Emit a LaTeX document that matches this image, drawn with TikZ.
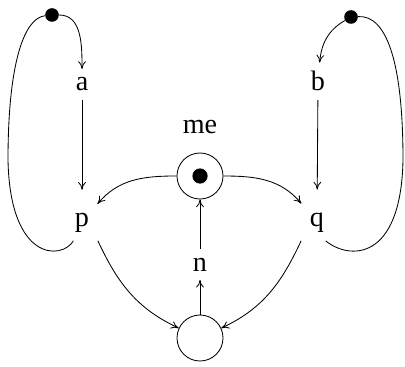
\documentclass[tikz,border=0pt]{standalone}
\usepackage{fontspec}
\setmainfont{Liberation Serif}
\usetikzlibrary{arrows.meta}
\begin{document}
\begin{tikzpicture}[x=0.025cm, y=-0.025cm, line width=0.6pt, >={To[length=5.5pt,width=5.5pt]},
    place/.style={draw, circle, minimum size=1.15cm, inner sep=0pt},
    token/.style={fill, circle, minimum size=0.34cm, inner sep=0pt},
    lab/.style={font=\fontsize{20}{24}\selectfont, inner sep=6pt, anchor=base}]
    \useasboundingbox (0,0) rectangle (405,366);
    % tokens on the two loops
    \node[token] (ta) at (52,15) {};
    \node[token] (tb) at (351,17) {};
    % transition labels
    \node[lab] (a) at (82,91) {a};
    \node[lab] (b) at (318,91) {b};
    \node[lab] (p) at (82,226) {p};
    \node[lab] (q) at (317,226) {q};
    \node[lab] (n) at (200,271) {n};
    % places
    \node[place] (me) at (200,176) {};
    \node[token, minimum size=0.38cm] (metok) at (me) {};
    \node[lab] (melab) at (200,134) {me};
    \node[place] (bot) at (200,338) {};
    % left loop
    \draw[->] (ta) to[out=0, in=90] (a);
    \draw[->, shorten >=10pt] (a) -- (p);
    \draw (p.-115) .. controls (62,260) and (10,262) .. (8,160) .. controls (8,60) and (25,18) .. (ta);
    % right loop
    \draw[->] (tb) to[out=210, in=85] (b);
    \draw[->, shorten >=10pt] (b) -- (q);
    \draw (q.-65) .. controls (349,260) and (401,262) .. (403,160) .. controls (403,60) and (386,15) .. (tb);
    % mutex
    \draw[->] (me) to[out=180, in=50] (p);
    \draw[->] (me) to[out=0, in=130] (q);
    \draw[->] (p.south east) to[out=-65, in=155] (bot);
    \draw[->] (q.south west) to[out=-115, in=25] (bot);
    \draw[->] (bot) -- (n);
    \draw[->] (n) -- (me);
\end{tikzpicture}
\end{document}
